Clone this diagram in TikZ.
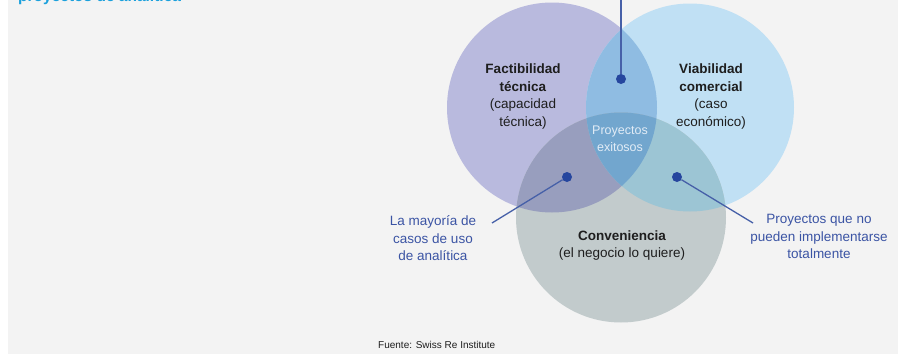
\documentclass[tikz,border=0pt]{standalone}
\usepackage{fontspec}
\setmainfont{Liberation Sans}
\definecolor{bggray}{RGB}{243,243,243}
\definecolor{cL}{RGB}{185,186,222}
\definecolor{cR}{RGB}{192,224,244}
\definecolor{cB}{RGB}{194,203,204}
\definecolor{cLR}{RGB}{143,188,226}
\definecolor{cLB}{RGB}{152,158,190}
\definecolor{cRB}{RGB}{156,197,212}
\definecolor{cC}{RGB}{114,166,206}
\definecolor{dotblue}{RGB}{38,70,158}
\definecolor{lineblue}{RGB}{70,96,168}
\definecolor{labblue}{RGB}{59,84,164}
\definecolor{darktext}{RGB}{30,30,30}
\definecolor{titlecyan}{RGB}{26,160,220}
\definecolor{exito}{RGB}{226,236,246}
\tikzset{
  setlabel/.style={align=center, inner sep=0pt, text=darktext, font=\fontsize{13.5}{17.5}\selectfont},
  calllabel/.style={align=center, inner sep=0pt, text=labblue, font=\fontsize{13.5}{17.5}\selectfont},
  dotnode/.style={circle, fill=dotblue, inner sep=0pt, minimum size=10pt},
  conn/.style={draw=lineblue, line width=1.3pt},
}
\begin{document}
\begin{tikzpicture}[x=1pt,y=-1pt]
\useasboundingbox (0,0) rectangle (898,354);
\fill[white] (0,0) rectangle (898,354);
\fill[bggray] (8,0) rectangle (898,354);
\begin{scope}
\clip (0,0) rectangle (898,354);
\node[anchor=base west, inner sep=0pt, text=titlecyan, font=\fontsize{15.5}{18}\selectfont\bfseries] (title) at (18,1.5) {proyectos de analítica};
\end{scope}
% circles
\def\cLpath{(552,107.5) circle[radius=105pt]}
\def\cRpath{(690,107.5) circle[radius=104pt]}
\def\cBpath{(621,217.5) circle[radius=105pt]}
\fill[cL] \cLpath;
\fill[cR] \cRpath;
\fill[cB] \cBpath;
\begin{scope}\clip \cLpath; \fill[cLR] \cRpath; \end{scope}
\begin{scope}\clip \cLpath; \fill[cLB] \cBpath; \end{scope}
\begin{scope}\clip \cRpath; \fill[cRB] \cBpath; \end{scope}
\begin{scope}\clip \cLpath; \clip \cRpath; \fill[cC] \cBpath; \end{scope}
% set labels
\node[setlabel] (fact) at (523,96.5) {\textbf{Factibilidad}\\\textbf{técnica}\\(capacidad\\técnica)};
\node[setlabel] (viab) at (711,96.5) {\textbf{Viabilidad}\\\textbf{comercial}\\(caso\\económico)};
\node[setlabel] (conv) at (622,245.5) {\textbf{Conveniencia}\\(el negocio lo quiere)};
\node[align=center, inner sep=0pt, text=exito, font=\fontsize{12.5}{17}\selectfont] (exitos) at (620,138.5) {Proyectos\\exitosos};
% dots and connectors
\node[dotnode] (d1) at (621,79) {};
\node[dotnode] (d2) at (567,177) {};
\node[dotnode] (d3) at (677,177) {};
\coordinate (e1) at (621,-2);
\coordinate (e2) at (492,223);
\coordinate (e3) at (753,223);
\draw[conn] (d1) -- (e1);
\draw[conn] (d2) -- (e2);
\draw[conn] (d3) -- (e3);
\node[calllabel] (lab1) at (433,238.5) {La mayoría de\\casos de uso\\de analítica};
\node[calllabel] (lab2) at (819,236.5) {Proyectos que no\\pueden implementarse\\totalmente};
\node[anchor=west, inner sep=0pt, text=darktext, font=\fontsize{10}{12}\selectfont] (src) at (378,345) {Fuente: Swiss Re Institute};
\end{tikzpicture}
\end{document}
